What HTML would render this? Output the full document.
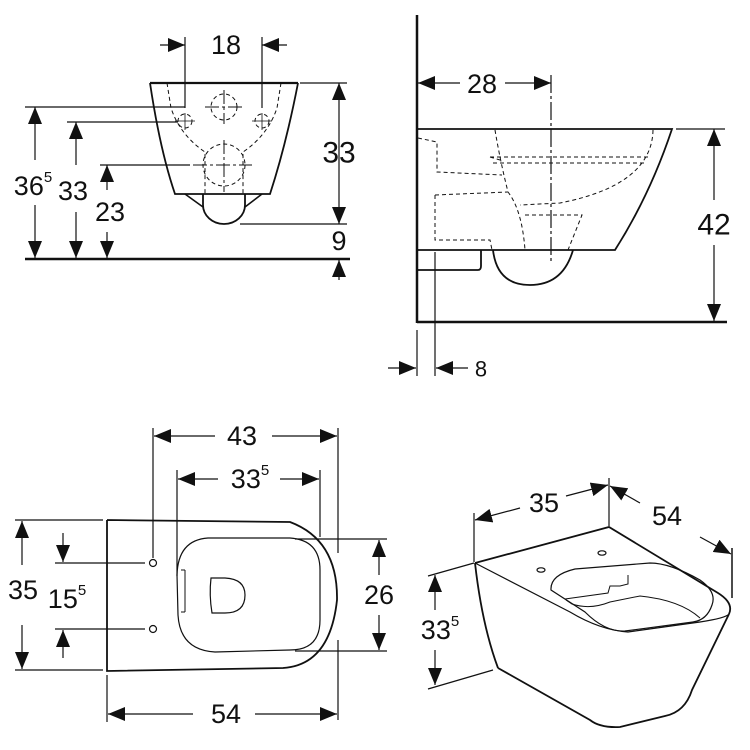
<!DOCTYPE html>
<html><head><meta charset="utf-8"><style>
html,body{margin:0;padding:0;background:#fff;}
svg{display:block;}
text{font-family:"Liberation Sans",Arial,sans-serif;fill:#111;}
</style></head><body>
<svg width="750" height="750" viewBox="0 0 750 750" xmlns="http://www.w3.org/2000/svg">
<defs>
<marker id="a" markerUnits="userSpaceOnUse" markerWidth="18" markerHeight="14" refX="17" refY="7" orient="auto">
<path d="M0,0 L17,7 L0,14 Z" fill="#111"/></marker>
</defs>
<g stroke="#111" fill="none" stroke-width="1.2">

<line x1="185" y1="37" x2="185" y2="108"/>
<line x1="262" y1="37" x2="262" y2="108"/>
<line x1="160" y1="45" x2="185" y2="45" marker-end="url(#a)"/>
<line x1="287" y1="45" x2="262" y2="45" marker-end="url(#a)"/>
<path d="M150,83 L298,83" stroke-width="2.2"/>
<path d="M150,83 Q160,150 175,194 L270,194 Q286,145 298,83" stroke-width="1.8"/>
<path d="M185,194 L203,207 M262,194 L245,207" stroke-width="1.6"/>
<path d="M203,194 L203,205 A21,19 0 0 0 245,205 L245,194" stroke-width="1.8"/>
<g stroke-dasharray="4,3" stroke-width="1">
<path d="M167,83 L171,108 Q180,135 205,152 L205,194"/>
<path d="M281,83 L277,108 Q268,135 243,152 L243,194"/>
<circle cx="224" cy="107" r="13"/>
<circle cx="185" cy="121" r="7"/>
<circle cx="262" cy="121" r="7"/>
<circle cx="224" cy="165" r="21"/>
</g>
<g stroke-dasharray="14,3,3,3" stroke-width="1">
<path d="M224,90 V124 M205,107 H243 M224,140 V192 M193,165 H252"/>
</g>
<path d="M175,121 H195 M252,121 H272 M185,113 V130 M262,113 V130" stroke-width="0.8"/>
<line x1="300" y1="83" x2="347" y2="83"/>
<line x1="240" y1="224" x2="347" y2="224"/>
<line x1="339" y1="150" x2="339" y2="83" marker-end="url(#a)"/>
<line x1="339" y1="150" x2="339" y2="224" marker-end="url(#a)"/>
<line x1="25" y1="259" x2="350" y2="259" stroke-width="2.5"/>
<line x1="339" y1="280" x2="339" y2="260" marker-end="url(#a)"/>
<line x1="25" y1="107" x2="185" y2="107"/>
<line x1="67" y1="122" x2="178" y2="122"/>
<line x1="100" y1="165" x2="190" y2="165"/>
<line x1="35" y1="160" x2="35" y2="107" marker-end="url(#a)"/>
<line x1="35" y1="205" x2="35" y2="258" marker-end="url(#a)"/>
<line x1="76" y1="165" x2="76" y2="122" marker-end="url(#a)"/>
<line x1="76" y1="212" x2="76" y2="258" marker-end="url(#a)"/>
<line x1="107" y1="190" x2="107" y2="165" marker-end="url(#a)"/>
<line x1="107" y1="232" x2="107" y2="258" marker-end="url(#a)"/>

<line x1="417" y1="15" x2="417" y2="323" stroke-width="2.5"/>
<line x1="417" y1="322" x2="727" y2="322" stroke-width="2.5"/>
<path d="M417,129 L672,129 Q650,195 615,250 L417,250" stroke-width="1.8"/>
<path d="M417,270 L478,270 Q481,270 481,266 L481,250" stroke-width="1.8"/>
<path d="M493,250 Q497,285 530,285 Q563,285 573,250" stroke-width="1.8"/>
<g stroke-dasharray="4,3" stroke-width="1">
<path d="M418,138 L437,142 L437,172 L502,175"/>
<path d="M495,130 Q500,160 508,192 Q522,210 525,250"/>
<path d="M435,195 L435,240 L490,240 L492,250"/>
<path d="M435,195 L508,192"/>
<path d="M490,157 L650,157 M490,157 L500,160 M493,163 L645,163"/>
<path d="M653,130 Q652,185 560,203 L520,205"/>
<path d="M525,215 L582,215 L568,250"/>
</g>
<line x1="551" y1="75" x2="551" y2="263" stroke-dasharray="18,3,3,3"/>
<line x1="460" y1="83" x2="418" y2="83" marker-end="url(#a)"/>
<line x1="505" y1="83" x2="551" y2="83" marker-end="url(#a)"/>
<line x1="676" y1="129" x2="725" y2="129"/>
<line x1="714" y1="200" x2="714" y2="129" marker-end="url(#a)"/>
<line x1="714" y1="245" x2="714" y2="321" marker-end="url(#a)"/>
<line x1="417" y1="330" x2="417" y2="376"/>
<line x1="435" y1="252" x2="435" y2="376"/>
<line x1="388" y1="368" x2="416" y2="368" marker-end="url(#a)"/>
<line x1="468" y1="368" x2="436" y2="368" marker-end="url(#a)"/>

<path d="M107,520 L107,671 L283,668 Q330,665 337,600 Q338,540 290,522 L107,520" stroke-width="1.8"/>
<path d="M208,538 L290,538 Q320,540 320,570 L320,620 Q320,650 290,650 L215,652 Q180,650 178,615 L177,575 Q178,540 208,538 Z"/>
<path d="M185,570 L185,612 M181,570 L185,570 M181,612 L185,612" stroke-width="1"/>
<path d="M211,578 L225,578 Q245,579 245,595 Q245,613 225,613 L212,613 Q209,595 211,578 Z" stroke-width="1.2"/>
<circle cx="153" cy="563" r="3.5" stroke-width="1.2"/>
<circle cx="153" cy="629" r="3.5" stroke-width="1.2"/>
<line x1="153" y1="428" x2="153" y2="558"/>
<line x1="338" y1="428" x2="338" y2="553"/>
<line x1="338" y1="640" x2="338" y2="720"/>
<line x1="215" y1="436" x2="154" y2="436" marker-end="url(#a)"/>
<line x1="272" y1="436" x2="337" y2="436" marker-end="url(#a)"/>
<line x1="177" y1="470" x2="177" y2="576"/>
<line x1="320" y1="470" x2="320" y2="537"/>
<line x1="218" y1="479" x2="178" y2="479" marker-end="url(#a)"/>
<line x1="280" y1="479" x2="319" y2="479" marker-end="url(#a)"/>
<line x1="15" y1="520" x2="103" y2="520"/>
<line x1="15" y1="670" x2="103" y2="670"/>
<line x1="22" y1="565" x2="22" y2="521" marker-end="url(#a)"/>
<line x1="22" y1="625" x2="22" y2="669" marker-end="url(#a)"/>
<line x1="55" y1="563" x2="145" y2="563"/>
<line x1="55" y1="629" x2="145" y2="629"/>
<line x1="63" y1="533" x2="63" y2="562" marker-end="url(#a)"/>
<line x1="63" y1="658" x2="63" y2="630" marker-end="url(#a)"/>
<line x1="295" y1="539" x2="387" y2="539"/>
<line x1="295" y1="651" x2="387" y2="651"/>
<line x1="379" y1="575" x2="379" y2="540" marker-end="url(#a)"/>
<line x1="379" y1="615" x2="379" y2="650" marker-end="url(#a)"/>
<line x1="107" y1="675" x2="107" y2="722"/>
<line x1="193" y1="714" x2="108" y2="714" marker-end="url(#a)"/>
<line x1="255" y1="714" x2="337" y2="714" marker-end="url(#a)"/>

<path d="M475,563 L609,527 L718,593 Q734,603 729,614" stroke-width="1.8"/>
<path d="M475,563 Q482,625 498,668" stroke-width="1.8"/>
<path d="M498,668 L590,720 Q600,728 620,727 L665,716 Q685,712 692,690 L729,614" stroke-width="1.8"/>
<path d="M475,563 L570,612 Q600,630 628,632 L700,622 Q726,618 729,614" stroke-width="1.2"/>
<path d="M551,590 Q550,575 575,569 L650,563 Q670,563 700,580 Q717,592 712,605 Q707,620 693,622 L625,631 Q605,632 585,612 Z" stroke-width="1.2"/>
<path d="M566,600 L572,604 Q590,610 610,602 L640,596 Q680,600 700,618" stroke-width="1"/>
<path d="M565,599 L608,593 L610,586 L620,586 L628,584 L628,575" stroke-width="1"/>
<ellipse cx="541" cy="570" rx="4" ry="2.2"/>
<ellipse cx="602" cy="553" rx="4" ry="2.2"/>
<line x1="474" y1="513" x2="474" y2="562"/>
<line x1="609" y1="478" x2="609" y2="526"/>
<line x1="520" y1="508" x2="475" y2="520" marker-end="url(#a)"/>
<line x1="566" y1="496" x2="608" y2="485" marker-end="url(#a)"/>
<line x1="732" y1="548" x2="732" y2="598" stroke-width="1.5"/>
<line x1="640" y1="503" x2="610" y2="486" marker-end="url(#a)"/>
<line x1="700" y1="537" x2="731" y2="554" marker-end="url(#a)"/>
<line x1="428" y1="576" x2="474" y2="563"/>
<line x1="428" y1="689" x2="493" y2="670"/>
<line x1="435" y1="610" x2="435" y2="575" marker-end="url(#a)"/>
<line x1="435" y1="650" x2="435" y2="685" marker-end="url(#a)"/>
</g>

<g font-size="27" text-anchor="middle" dominant-baseline="central">
<text x="226" y="45">18</text>
<text x="339" y="153" font-size="30">33</text>
<text x="339" y="241">9</text>
<text x="33" y="186">36<tspan font-size="15" dy="-9">5</tspan></text>
<text x="73" y="191">33</text>
<text x="110" y="212">23</text>
<text x="482" y="84">28</text>
<text x="714" y="225" font-size="30">42</text>
<text x="481" y="369" font-size="22">8</text>
<text x="242" y="436">43</text>
<text x="250" y="479">33<tspan font-size="15" dy="-9">5</tspan></text>
<text x="23" y="590">35</text>
<text x="67" y="599">15<tspan font-size="15" dy="-9">5</tspan></text>
<text x="379" y="595">26</text>
<text x="226" y="714">54</text>
<text x="544" y="503">35</text>
<text x="667" y="516">54</text>
<text x="440" y="630">33<tspan font-size="15" dy="-9">5</tspan></text>
</g>
</svg>
</body></html>
